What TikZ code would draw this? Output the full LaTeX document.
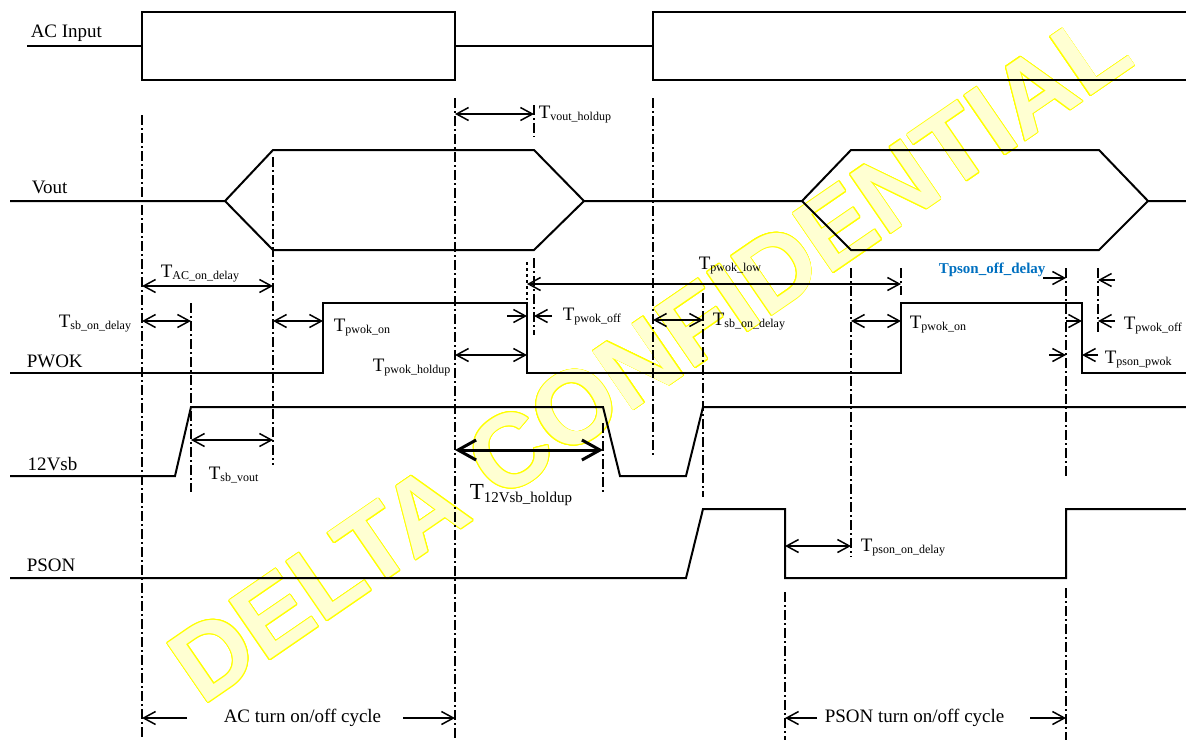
\documentclass[tikz,border=0pt]{standalone}
\usepackage{fontspec}
\setmainfont{Liberation Serif}
\newfontfamily\wmfont{Liberation Sans}
\usepackage{contour}
\usetikzlibrary{arrows.meta}
\definecolor{wmline}{RGB}{255,255,0}
\definecolor{wmfill}{RGB}{255,255,210}
\definecolor{tblue}{RGB}{0,112,192}
\newcommand{\tsub}[1]{T\raisebox{-1.2pt}{\fontsize{6}{7}\selectfont #1}}

\begin{document}
\begin{tikzpicture}[x=0.5pt, y=-0.5pt, >={Straight Barb[length=6pt,width=6.5pt]},
    line width=0.75pt, font=\fontsize{9.5}{11}\selectfont]
    \tikzstyle{wave}=[line width=1pt, line join=miter]
    \tikzstyle{guide}=[line width=0.7pt, dash pattern=on 5pt off 1.5pt on 1pt off 1.5pt]
    \tikzstyle{dim}=[<->]
    \tikzstyle{lbl}=[inner sep=0pt, anchor=base west]
    \useasboundingbox (0,0) rectangle (1186,740);

    % watermark
    \node[rotate=34.5, inner sep=0pt] (wm) at (650,356)
        {\wmfont\bfseries\fontsize{52}{58}\selectfont\contourlength{0.45pt}%
         \textcolor{wmfill}{\contour{wmline}{DELTA CONFIDENTIAL}}};

    % signals
    \draw[wave] (27,46) -- (142,46);
    \draw[wave] (142,12) rectangle (455,80);
    \draw[wave] (455,46) -- (653,46);
    \draw[wave] (1186,12) -- (653,12) -- (653,80) -- (1186,80);

    \draw[wave] (10,201) -- (225,201) -- (273,150) -- (534,150) -- (584,201) -- (802,201)
        -- (851,150) -- (1099,150) -- (1148,201) -- (1186,201);
    \draw[wave] (225,201) -- (273,250) -- (534,250) -- (584,201);
    \draw[wave] (802,201) -- (851,250) -- (1099,250) -- (1148,201);

    \draw[wave] (10,373) -- (323,373) -- (323,303) -- (527,303) -- (527,373) -- (901,373)
        -- (901,303) -- (1082,303) -- (1082,373) -- (1186,373);
    \draw[wave] (10,476) -- (175,476) -- (191,407) -- (603,407) -- (620,476) -- (686,476)
        -- (703,407) -- (1186,407);
    \draw[wave] (10,578) -- (686,578) -- (703,509) -- (785,509) -- (785,578) -- (1066,578)
        -- (1066,509) -- (1186,509);

    % signal names
    \node[lbl] (acin) at (30,37)  {AC Input};
    \node[lbl] (vout) at (31,193) {Vout};
    \node[lbl] (pwok) at (26,367) {PWOK};
    \node[lbl] (vsb)  at (27,470) {12Vsb};
    \node[lbl] (pson) at (26,571) {PSON};

    % time marks
    \draw[guide] (142,115) -- (142,740);
    \draw[guide] (455,98) -- (455,740);
    \draw[guide] (653,98) -- (653,458);
    \draw[guide] (273,157) -- (273,465);
    \draw[guide] (534,105) -- (534,137);
    \draw[guide] (534,258) -- (534,335);
    \draw[guide, dash pattern=on 1.5pt off 1.5pt] (527,262) -- (527,300);
    \draw[guide] (191,303) -- (191,492);
    \draw[guide] (603,423) -- (603,493);
    \draw[guide] (703,293) -- (703,497);
    \draw[guide] (851,268) -- (851,557);
    \draw[guide] (901,268) -- (901,295);
    \draw[guide] (1066,268) -- (1066,478);
    \draw[guide] (1098,268) -- (1098,332);
    \draw[guide] (785,592) -- (785,740);
    \draw[guide] (1066,588) -- (1066,740);

    % timing arrows
    \draw[dim] (455,114) -- (534,114);
    \draw[dim] (142,286) -- (273,286);
    \draw[dim] (142,321) -- (191,321);
    \draw[dim] (273,321) -- (323,321);
    \draw[dim] (455,355) -- (527,355);
    \draw[->] (507,316) -- (527,316);
    \draw[->] (552,316) -- (534,316);
    \draw[dim] (527,284) -- (901,284);
    \draw[dim] (653,320) -- (703,320);
    \draw[dim] (851,321) -- (901,321);
    \draw[->] (1043,278) -- (1066,278);
    \draw[->] (1115,280) -- (1098,280);
    \draw[->] (1066,321) -- (1082,321);
    \draw[->] (1115,321) -- (1098,321);
    \draw[->] (1049,355) -- (1066,355);
    \draw[->] (1098,355) -- (1082,355);
    \draw[dim] (191,440) -- (273,440);
    \draw[{Straight Barb[length=9pt,width=10pt]}-{Straight Barb[length=9pt,width=10pt]},
        line width=1.5pt] (455,450) -- (603,450);
    \draw[dim] (785,546) -- (851,546);
    \draw[->] (187,718) -- (142,718);
    \draw[->] (403,718) -- (455,718);
    \draw[->] (817,718) -- (785,718);
    \draw[->] (1030,718) -- (1066,718);

    % timing labels
    \node[lbl] (tvh)   at (538,118) {\tsub{vout\_holdup}};
    \node[lbl] (tacon) at (160,277) {\tsub{AC\_on\_delay}};
    \node[lbl] (tsb1)  at (58,327)  {\tsub{sb\_on\_delay}};
    \node[lbl] (tpon1) at (333,331) {\tsub{pwok\_on}};
    \node[lbl] (tph)   at (372,371) {\tsub{pwok\_holdup}};
    \node[lbl] (tpof1) at (562,320) {\tsub{pwok\_off}};
    \node[lbl] (tplow) at (698,269) {\tsub{pwok\_low}};
    \node[lbl] (tsb2)  at (712,325) {\tsub{sb\_on\_delay}};
    \node[lbl] (tpon2) at (909,328) {\tsub{pwok\_on}};
    \node[lbl, text=tblue, font=\bfseries\fontsize{7.5}{9}\selectfont] (tpsoff) at (938,273) {Tpson\_off\_delay};
    \node[lbl] (tpof2) at (1123,329) {\tsub{pwok\_off}};
    \node[lbl] (tpsp)  at (1104,363) {\tsub{pson\_pwok}};
    \node[lbl] (tsbv)  at (208,479) {\tsub{sb\_vout}};
    \node[lbl, font=\fontsize{11.5}{13}\selectfont] (tvsbh) at (469,499)
        {T\raisebox{-1.5pt}{\fontsize{7.5}{9}\selectfont 12Vsb\_holdup}};
    \node[lbl] (tpson) at (860,551) {\tsub{pson\_on\_delay}};
    \node[lbl] (accyc) at (223,722) {AC turn on/off cycle};
    \node[lbl] (pscyc) at (824,722) {PSON turn on/off cycle};
\end{tikzpicture}
\end{document}
